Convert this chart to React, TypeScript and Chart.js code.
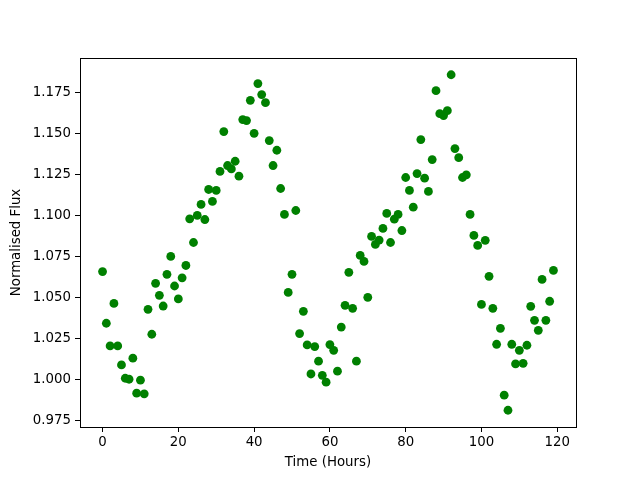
import React, { useEffect, useRef } from "react";
import { Chart, registerables } from "chart.js";

Chart.register(...registerables);

const timeHours: number[] = [
  0, 1, 2, 3, 4, 5, 6, 7, 8, 9, 10, 11, 12, 13, 14, 15, 16, 17, 18, 19,
  20, 21, 22, 23, 24, 25, 26, 27, 28, 29, 30, 31, 32, 33, 34, 35, 36, 37, 38, 39,
  40, 41, 42, 43, 44, 45, 46, 47, 48, 49, 50, 51, 52, 53, 54, 55, 56, 57, 58, 59,
  60, 61, 62, 63, 64, 65, 66, 67, 68, 69, 70, 71, 72, 73, 74, 75, 76, 77, 78, 79,
  80, 81, 82, 83, 84, 85, 86, 87, 88, 89, 90, 91, 92, 93, 94, 95, 96, 97, 98, 99,
  100, 101, 102, 103, 104, 105, 106, 107, 108, 109, 110, 111, 112, 113, 114, 115, 116, 117, 118, 119,
];

const flux: number[] = [
  1.066, 1.0345, 1.0207, 1.0466, 1.0207, 1.0091, 1.001, 1.0004, 1.0132, 0.9919,
  0.9998, 0.9915, 1.043, 1.0278, 1.0588, 1.0515, 1.045, 1.0643, 1.0752, 1.0572,
  1.0493, 1.0622, 1.0697, 1.0981, 1.0837, 1.1002, 1.1069, 1.0977, 1.116, 1.1087,
  1.1154, 1.127, 1.1513, 1.1306, 1.1285, 1.1332, 1.1241, 1.1586, 1.158, 1.1703,
  1.1502, 1.1805, 1.1738, 1.1689, 1.1458, 1.1306, 1.1399, 1.1166, 1.1008, 1.0533,
  1.0643, 1.1032, 1.0282, 1.0418, 1.0213, 1.0036, 1.0203, 1.0114, 1.0028, 0.9986,
  1.0215, 1.018, 1.0053, 1.0322, 1.0454, 1.0655, 1.0436, 1.0114, 1.0758, 1.0722,
  1.0503, 1.0874, 1.0825, 1.0852, 1.0923, 1.1014, 1.0837, 1.0979, 1.1008, 1.091,
  1.1233, 1.1154, 1.1052, 1.1257, 1.1464, 1.1229, 1.1148, 1.1342, 1.1762, 1.1622,
  1.161, 1.164, 1.1859, 1.1409, 1.1354, 1.1233, 1.1249, 1.1008, 1.088, 1.0819,
  1.046, 1.085, 1.0631, 1.0436, 1.0217, 1.0314, 0.9907, 0.9815, 1.0217, 1.0097,
  1.018, 1.0101, 1.0211, 1.0448, 1.0363, 1.0302, 1.0612, 1.0363, 1.0479, 1.0667,
];

const xTicks: number[] = [0, 20, 40, 60, 80, 100, 120];
const yTicks: number[] = [0.975, 1.0, 1.025, 1.05, 1.075, 1.1, 1.125, 1.15, 1.175];

const xLabel = "Time (Hours)";
const yLabel = "Normalised Flux";

const FONT = { family: "'DejaVu Sans', sans-serif", size: 13.33 };

const framePlugin = {
  id: "frame",
  afterDraw(chart: any) {
    const { ctx, chartArea } = chart;
    ctx.save();
    ctx.strokeStyle = "#000";
    ctx.lineWidth = 1;
    ctx.strokeRect(
      Math.round(chartArea.left) + 0.5,
      Math.round(chartArea.top) + 0.5,
      Math.round(chartArea.right - chartArea.left),
      Math.round(chartArea.bottom - chartArea.top)
    );
    ctx.restore();
  },
};

export default function App() {
  const ref = useRef<HTMLCanvasElement | null>(null);

  useEffect(() => {
    if (!ref.current) return;
    const points = timeHours.map((t, i) => ({ x: t, y: flux[i] }));
    const chart = new Chart(ref.current, {
      type: "scatter",
      data: {
        datasets: [
          {
            data: points,
            backgroundColor: "#008000",
            borderColor: "#008000",
            borderWidth: 0,
            pointRadius: 4.4,
            pointHoverRadius: 4.4,
          },
        ],
      },
      options: {
        responsive: false,
        animation: false,
        devicePixelRatio: 1,
        layout: { padding: { left: 0, top: 58, right: 64, bottom: 0 } },
        plugins: {
          legend: { display: false },
          tooltip: { enabled: false },
        },
        scales: {
          x: {
            type: "linear",
            min: -5.95,
            max: 124.95,
            afterBuildTicks: (scale: any) => {
              scale.ticks = xTicks.map((v) => ({ value: v }));
            },
            afterFit: (scale: any) => {
              scale.height = 53;
            },
            grid: {
              drawOnChartArea: false,
              drawTicks: true,
              tickLength: 5,
              color: "#000",
            },
            border: { display: true, color: "#000", width: 1 },
            ticks: {
              color: "#000",
              font: FONT,
              padding: 3,
              maxRotation: 0,
              callback: (v: any) => String(v),
            },
            title: {
              display: true,
              text: xLabel,
              color: "#000",
              font: FONT,
              padding: { top: 0, bottom: 9 },
            },
          },
          y: {
            type: "linear",
            min: 0.9713,
            max: 1.1961,
            afterBuildTicks: (scale: any) => {
              scale.ticks = yTicks.map((v) => ({ value: v }));
            },
            afterFit: (scale: any) => {
              scale.width = 80;
            },
            grid: {
              drawOnChartArea: false,
              drawTicks: true,
              tickLength: 5,
              color: "#000",
            },
            border: { display: true, color: "#000", width: 1 },
            ticks: {
              color: "#000",
              font: FONT,
              padding: 4,
              callback: (v: any) => Number(v).toFixed(3),
            },
            title: {
              display: true,
              text: yLabel,
              color: "#000",
              font: FONT,
              padding: { top: 9, bottom: 0 },
            },
          },
        },
      },
      plugins: [framePlugin],
    });
    return () => chart.destroy();
  }, []);

  return (
    <div style={{ position: "absolute", left: 0, top: 0, width: 640, height: 480, background: "#fff" }}>
      <canvas ref={ref} width={640} height={480} style={{ width: 640, height: 480 }} />
    </div>
  );
}
